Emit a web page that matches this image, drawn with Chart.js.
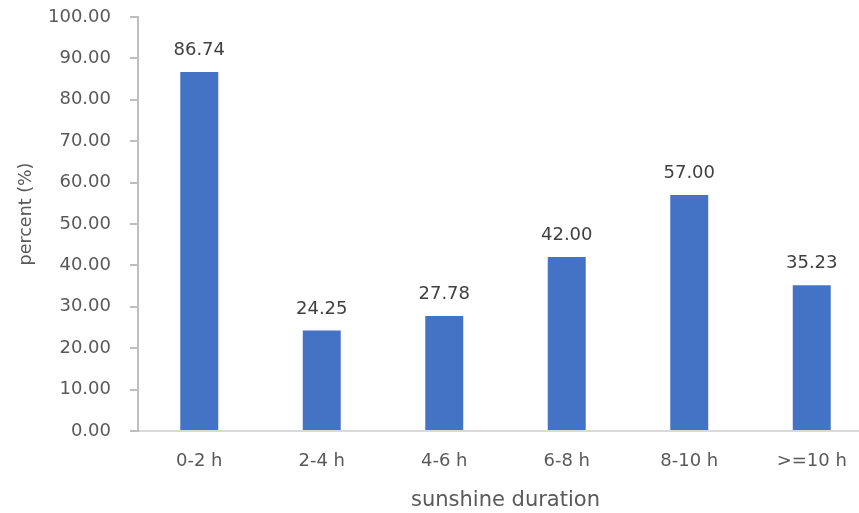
<!DOCTYPE html>
<html>
<head>
<meta charset="utf-8">
<script src="https://cdn.jsdelivr.net/npm/chart.js@4/dist/chart.umd.min.js"></script>
<style>
  html, body { margin: 0; padding: 0; background: #ffffff; overflow: hidden; }
  #wrap { position: absolute; left: 0; top: 0; width: 880px; height: 513px; }
</style>
</head>
<body>
<div id="wrap"><canvas id="chart" width="880" height="513"></canvas></div>
<script>
// Share of cases by daily sunshine duration
const categories = ['0-2 h', '2-4 h', '4-6 h', '6-8 h', '8-10 h', '>=10 h'];
const percentValues = [86.74, 24.25, 27.78, 42.00, 57.00, 35.23];
const yTickValues = [0, 10, 20, 30, 40, 50, 60, 70, 80, 90, 100];

const xAxisTitle = 'sunshine duration';
const yAxisTitle = 'percent (%)';

const FONT = 'DejaVu Sans';
const TEXT_GREY = '#595959';

// Value labels above each bar
const valueLabels = {
  id: 'valueLabels',
  afterDatasetsDraw(chart) {
    const ctx = chart.ctx;
    const meta = chart.getDatasetMeta(0);
    ctx.save();
    ctx.font = '18px "' + FONT + '"';
    ctx.fillStyle = '#404040';
    ctx.textAlign = 'center';
    ctx.textBaseline = 'alphabetic';
    meta.data.forEach((bar, i) => {
      const v = chart.data.datasets[0].data[i];
      ctx.fillText(v.toFixed(2), bar.x, bar.y - 17);
    });
    ctx.restore();
  }
};

// Rotated title for the value axis
const yTitle = {
  id: 'yTitle',
  afterDraw(chart) {
    const ctx = chart.ctx;
    const area = chart.chartArea;
    ctx.save();
    ctx.translate(26, (area.top + area.bottom) / 2 - 10);
    ctx.rotate(-Math.PI / 2);
    ctx.font = '17.5px "' + FONT + '"';
    ctx.fillStyle = TEXT_GREY;
    ctx.textAlign = 'center';
    ctx.textBaseline = 'middle';
    ctx.fillText(yAxisTitle, 0, 0);
    ctx.restore();
  }
};

new Chart(document.getElementById('chart'), {
  type: 'bar',
  data: {
    labels: categories,
    datasets: [{
      data: percentValues,
      backgroundColor: '#4472C4',
      borderWidth: 0,
      barPercentage: 0.31,
      categoryPercentage: 1.0
    }]
  },
  options: {
    responsive: false,
    animation: false,
    devicePixelRatio: 1,
    layout: { padding: { top: 17, right: 7, left: 0, bottom: 0 } },
    plugins: {
      legend: { display: false },
      tooltip: { enabled: false },
      title: { display: false }
    },
    scales: {
      x: {
        grid: { display: false, drawTicks: false },
        border: { display: true, color: '#d9d9d9', width: 2 },
        ticks: {
          color: TEXT_GREY,
          font: { family: FONT, size: 18 },
          padding: 20,
          maxRotation: 0,
          autoSkip: false
        },
        title: {
          display: true,
          text: xAxisTitle,
          color: TEXT_GREY,
          font: { family: FONT, size: 21 },
          padding: { top: 0, bottom: 0 }
        },
        afterFit(scale) { scale.height = 82; }
      },
      y: {
        min: 0,
        max: 100,
        afterBuildTicks(scale) {
          scale.ticks = yTickValues.map(v => ({ value: v }));
        },
        grid: {
          display: true,
          drawOnChartArea: false,
          drawTicks: true,
          tickLength: 8,
          color: '#bfbfbf',
          lineWidth: 2
        },
        border: { display: true, color: '#bfbfbf', width: 2 },
        ticks: {
          color: TEXT_GREY,
          font: { family: FONT, size: 18 },
          padding: 19,
          callback: v => Number(v).toFixed(2)
        },
        afterFit(scale) {
          scale.width = 138;
          scale.paddingTop = 0;
          scale.paddingBottom = 0;
        }
      }
    }
  },
  plugins: [valueLabels, yTitle]
});
</script>
</body>
</html>
